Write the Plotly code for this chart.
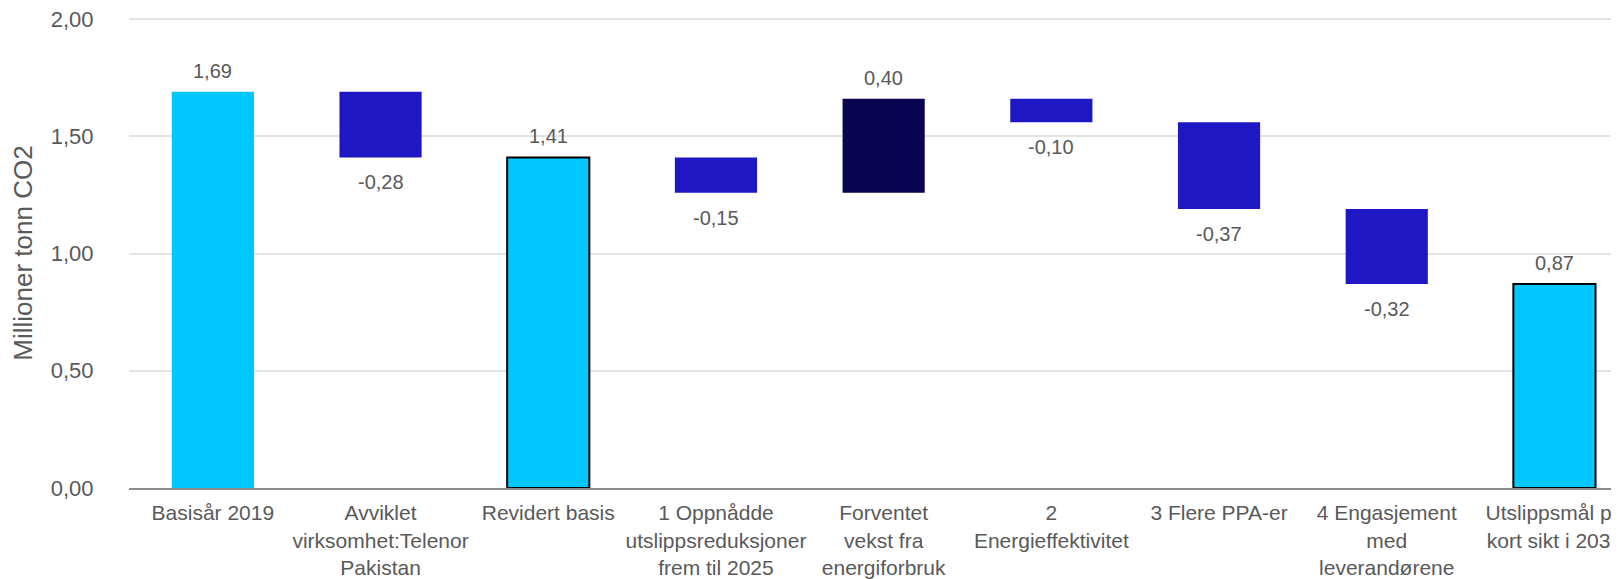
import plotly.graph_objects as go

categories = [
    'Basisår 2019',
    'Avviklet<br>virksomhet:Telenor<br>Pakistan',
    'Revidert basis',
    '1 Oppnådde<br>utslippsreduksjoner<br>frem til 2025',
    'Forventet<br>vekst fra<br>energiforbruk',
    '2<br>Energieffektivitet',
    '3 Flere PPA-er',
    '4 Engasjement<br>med<br>leverandørene',
    'Utslippsmål på<br>kort sikt i 2030',
]
values = [1.69, -0.28, 1.41, -0.15, 0.40, -0.10, -0.37, -0.32, 0.87]
measures = ['total', 'step', 'total', 'step', 'step', 'step', 'step', 'step', 'total']
outlined = [False, False, True, False, False, False, False, False, True]

y_ticks = [0.0, 0.5, 1.0, 1.5, 2.0]

total_color = '#00c8ff'
down_color = '#1f17c4'
up_color = '#0a0550'
text_color = '#595959'
font_family = 'Arial, Liberation Sans, sans-serif'

# running level -> base of every bar
bases, heights, colors = [], [], []
level = 0.0
for v, m in zip(values, measures):
    if m == 'total':
        bases.append(0.0)
        heights.append(v)
        colors.append(total_color)
        level = v
    else:
        bases.append(level)
        heights.append(v)
        colors.append(up_color if v > 0 else down_color)
        level += v

labels = [f'{v:.2f}'.replace('.', ',') for v in values]
x = list(range(len(categories)))

fig = go.Figure()
fig.add_trace(go.Bar(
    x=x,
    y=heights,
    base=bases,
    width=0.49,
    marker=dict(
        color=colors,
        line=dict(color=['#000000' if o else 'rgba(0,0,0,0)' for o in outlined],
                  width=[2 if o else 0 for o in outlined])),
    showlegend=False,
    hoverinfo='skip'))

# value labels: above rising/total bars, below falling ones
for xi, b, h, lab in zip(x, bases, heights, labels):
    end = b + h
    fig.add_annotation(
        x=xi, y=end, text=lab, showarrow=False,
        yanchor='middle', yshift=21 if h > 0 else -25,
        font=dict(size=20, color=text_color, family=font_family))

# page body has an 8px margin, so the figure is sized to the rest of the window
fig.update_layout(
    width=1611,
    height=571,
    autosize=False,
    margin=dict(l=121, r=0, t=10, b=91, pad=0),
    paper_bgcolor='white',
    plot_bgcolor='white',
    font=dict(family=font_family, size=22, color=text_color),
    separators=', ',
    bargap=0.5)

fig.update_xaxes(
    tickmode='array',
    tickvals=x,
    ticktext=categories,
    range=[-0.5, 8.385],
    automargin=False,
    showline=True,
    linecolor='#8c8c8c',
    linewidth=2,
    showgrid=False,
    ticks='',
    ticklabelstandoff=5,
    ticklabeloverflow='allow',
    tickfont=dict(size=21, color=text_color))

fig.update_yaxes(
    range=[0, 2.005],
    tickvals=y_ticks,
    tickformat='.2f',
    automargin=False,
    showgrid=True,
    gridcolor='#e3e3e3',
    gridwidth=1.5,
    zeroline=False,
    showline=False,
    ticks='outside',
    ticklen=30,
    tickcolor='rgba(0,0,0,0)',
    ticklabeloverflow='allow',
    tickfont=dict(size=22, color=text_color),
    title=dict(text='Millioner tonn CO2', font=dict(size=26, color=text_color), standoff=14))

fig.write_html('out.html')
